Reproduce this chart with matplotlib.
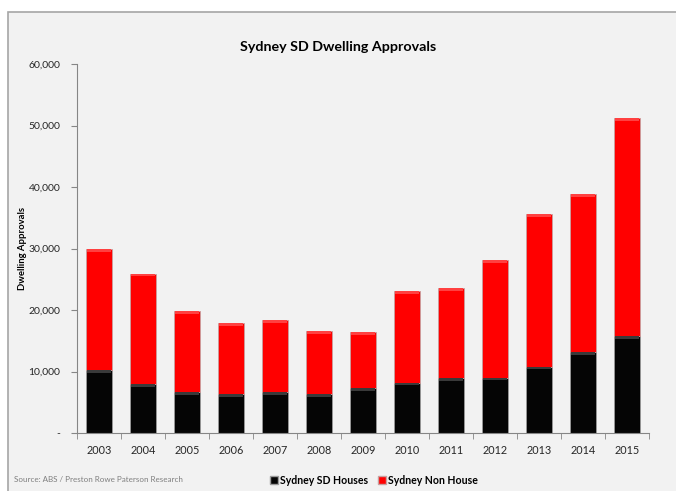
import numpy as np
import matplotlib.pyplot as plt
from matplotlib.patches import Patch, Rectangle
from matplotlib.ticker import FuncFormatter

# Sydney SD dwelling approvals by year
years = ['2003', '2004', '2005', '2006', '2007', '2008', '2009',
         '2010', '2011', '2012', '2013', '2014', '2015']
houses = [10200, 8000, 6600, 6300, 6600, 6300, 7300,
          8200, 8900, 9000, 10800, 13100, 15700]
non_house = [19700, 17900, 13200, 11600, 11700, 10300, 9100,
             14900, 14700, 19100, 24800, 25700, 35500]

plt.rcParams['font.family'] = ['Lato', 'DejaVu Sans']

fig = plt.figure(figsize=(6.76, 4.91), dpi=100, facecolor='white')
# chart area frame
fig.patches.append(Rectangle((8 / 676, -0.1), 1.0, 1.1 - 12 / 491,
                             transform=fig.transFigure, facecolor='#f2f2f2',
                             edgecolor='#a6a6a6', linewidth=1.2, zorder=-10))

ax = fig.add_axes([77 / 676, 58 / 491, 572 / 676, 369 / 491])
ax.set_facecolor('none')

x = np.arange(len(years))
w = 0.57
ax.bar(x, houses, w, color='#050505', edgecolor='#9a9a9a', linewidth=0.6)
ax.bar(x, non_house, w, bottom=houses, color='#ff0000',
       edgecolor='#c8a0a0', linewidth=0.6)

# glossy strip at the top of each segment
totals = np.array(houses) + np.array(non_house)
ax.bar(x, 450, w * 0.96, bottom=np.array(houses) - 450, color='#3a3a3a',
       linewidth=0)
ax.bar(x, 450, w * 0.96, bottom=totals - 450, color='#ff4040', linewidth=0)

ax.set_xlim(-0.5, len(years) - 0.5)
ax.set_ylim(0, 60000)
ax.set_yticks(np.arange(0, 60001, 10000))
ax.yaxis.set_major_formatter(FuncFormatter(lambda v, p: '-' if v == 0 else f'{v:,.0f}'))

ax.set_xticks(x)
ax.set_xticklabels(years)
ax.set_xticks(np.arange(-0.5, len(years)), minor=True)
ax.tick_params(axis='x', which='major', length=0, pad=9, labelsize=7.8, colors='#262626')
ax.tick_params(axis='x', which='minor', length=4, color='#868686')
ax.tick_params(axis='y', length=4, color='#868686', labelsize=7.5, labelcolor='#262626', pad=8)

for s in ['top', 'right']:
    ax.spines[s].set_visible(False)
for s in ['left', 'bottom']:
    ax.spines[s].set_color('#868686')

ax.set_ylabel('Dwelling Approvals', fontsize=6.8, fontweight='bold')
ax.yaxis.set_label_coords(-50 / 572, 0.5)

fig.text(338 / 676, 1 - 47 / 491, 'Sydney SD Dwelling Approvals', ha='center',
         va='center', fontsize=10.3, fontweight='bold')
fig.text(14 / 676, 1 - 480 / 491, 'Source: ABS / Preston Rowe Paterson Research',
         ha='left', va='center', fontsize=5.8, color='#7f7f7f')

handles = [Patch(facecolor='#050505', edgecolor='#9a9a9a', label='Sydney SD Houses'),
           Patch(facecolor='#ff0000', edgecolor='#c8a0a0', label='Sydney Non House')]
fig.legend(handles=handles, loc='center', bbox_to_anchor=(374 / 676, 1 - 480 / 491),
           ncol=2, frameon=False, handlelength=0.7, handleheight=0.7,
           handletextpad=0.2, columnspacing=1.0,
           prop={'size': 7.6, 'weight': 'bold'})

fig.savefig('out.png', dpi=100, facecolor='white')
